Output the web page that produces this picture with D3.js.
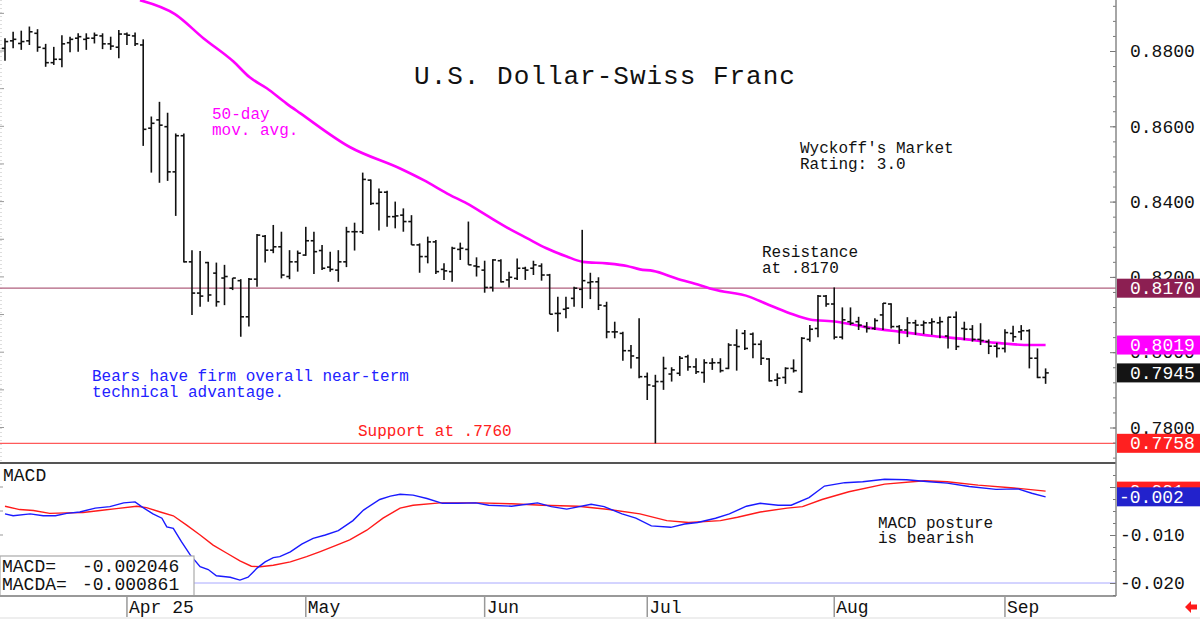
<!DOCTYPE html>
<html>
<head>
<meta charset="utf-8">
<script src="https://cdn.jsdelivr.net/npm/d3@7"></script>
<style>
  body { margin: 0; background: #fff; }
  svg { display: block; }
  text { font-family: "Liberation Mono", "DejaVu Sans Mono", monospace; }
</style>
</head>
<body>
<svg id="chart" width="1200" height="620"></svg>
<script>
// ---- daily bars, Mar 11 .. Sep 8 (bar index 0..128) ----
const open = [
  .8807,.8827,.8820,.8827,.8847,.8807,.8769,.8778,.8822,.8834,
  .8831,.8834,.8840,.8819,.8810,.8845,.8840,.8816,.8595,.8617,
  .8599,.8479,.8575,.8240,.8157,.8238,.8210,.8197,.8170,.8190,
  .8094,.8194,.8308,.8271,.8280,.8201,.8240,.8258,.8296,.8270,
  .8226,.8218,.8240,.8320,.8320,.8457,.8395,.8425,.8360,.8364,
  .8347,.8285,.8254,.8293,.8220,.8214,.8273,.8273,.8229,.8218,
  .8172,.8243,.8192,.8196,.8223,.8223,.8229,.8205,.8103,.8114,
  .8143,.8167,.8185,.8187,.8123,.8054,.8050,.8004,.7985,.7935,
  .7910,.7922,.7942,.7944,.7988,.7961,.7946,.7971,.7972,.7957,
  .8019,.8050,.8048,.8021,.7982,.7926,.7933,.7957,.7895,.8034,
  .8063,.8149,.8128,.8040,.8081,.8081,.8068,.8063,.8099,.8128,
  .8068,.8059,.8078,.8072,.8078,.8078,.8043,.8093,.8063,.8061,
  .8034,.8028,.8016,.8010,.8050,.8054,.8057,.7984,.7933
];
const high = [
  .8834,.8851,.8854,.8865,.8858,.8819,.8811,.8842,.8838,.8847,
  .8847,.8849,.8847,.8838,.8856,.8849,.8849,.8831,.8626,.8665,
  .8636,.8581,.8581,.8271,.8269,.8240,.8238,.8232,.8197,.8194,
  .8197,.8314,.8311,.8338,.8320,.8271,.8270,.8333,.8320,.8285,
  .8267,.8271,.8333,.8344,.8477,.8459,.8435,.8429,.8400,.8382,
  .8364,.8289,.8307,.8298,.8236,.8280,.8291,.8347,.8252,.8243,
  .8247,.8247,.8214,.8249,.8227,.8243,.8236,.8208,.8147,.8147,
  .8174,.8325,.8211,.8199,.8134,.8081,.8054,.8019,.8090,.7946,
  .7940,.7988,.7960,.7990,.7993,.7984,.7981,.7984,.7984,.8024,
  .8061,.8059,.8052,.8032,.7984,.7944,.7960,.7981,.8040,.8072,
  .8152,.8152,.8172,.8119,.8119,.8094,.8080,.8090,.8131,.8130,
  .8072,.8093,.8086,.8084,.8090,.8094,.8094,.8108,.8081,.8072,
  .8077,.8034,.8025,.8061,.8070,.8072,.8061,.8010,.7957
];
const low = [
  .8774,.8807,.8803,.8816,.8798,.8758,.8763,.8757,.8797,.8798,
  .8803,.8820,.8805,.8803,.8781,.8816,.8813,.8548,.8477,.8450,
  .8455,.8362,.8238,.8099,.8121,.8134,.8121,.8125,.8165,.8041,
  .8068,.8174,.8238,.8263,.8196,.8194,.8214,.8256,.8208,.8218,
  .8214,.8187,.8226,.8270,.8314,.8391,.8323,.8333,.8329,.8320,
  .8285,.8211,.8236,.8208,.8192,.8187,.8245,.8232,.8201,.8158,
  .8161,.8185,.8172,.8192,.8192,.8205,.8190,.8101,.8054,.8090,
  .8121,.8117,.8141,.8112,.8037,.8037,.7977,.7957,.7931,.7873,
  .7758,.7900,.7922,.7937,.7951,.7942,.7919,.7953,.7946,.7955,
  .7951,.8006,.7984,.7966,.7922,.7910,.7916,.7946,.7892,.8028,
  .8040,.8121,.8034,.8034,.8072,.8059,.8052,.8059,.8059,.8063,
  .8022,.8040,.8046,.8048,.8046,.8037,.8010,.8006,.8032,.8028,
  .8019,.7995,.7986,.7999,.8028,.8032,.7957,.7931,.7916
];
const close = [
  .8825,.8831,.8825,.8851,.8810,.8769,.8778,.8819,.8831,.8838,
  .8834,.8842,.8819,.8813,.8845,.8842,.8819,.8592,.8608,.8603,
  .8479,.8575,.8240,.8157,.8149,.8152,.8134,.8201,.8197,.8094,
  .8194,.8311,.8271,.8280,.8205,.8240,.8263,.8296,.8267,.8223,
  .8220,.8240,.8320,.8320,.8459,.8395,.8425,.8360,.8362,.8347,
  .8285,.8254,.8293,.8214,.8216,.8276,.8276,.8232,.8227,.8172,
  .8245,.8187,.8199,.8223,.8218,.8232,.8205,.8101,.8103,.8117,
  .8170,.8190,.8187,.8125,.8054,.8054,.8004,.7990,.7935,.7913,
  .7922,.7957,.7953,.7984,.7961,.7948,.7972,.7972,.7951,.8019,
  .8015,.8010,.8021,.7984,.7924,.7931,.7957,.7951,.8037,.8061,
  .8149,.8128,.8040,.8086,.8077,.8072,.8063,.8084,.8130,.8068,
  .8059,.8078,.8072,.8078,.8081,.8081,.8093,.8015,.8061,.8034,
  .8031,.8016,.8010,.8052,.8041,.8057,.7984,.7933,.7945
];

// 50-day moving average at bar positions
const maIdx = [16.6, 20.9, 24.4, 28.1, 30.1, 32.2, 34.6, 36.3, 42.4, 48.6, 51.5, 54.7, 56.8, 59.2, 62.1,
  64.2, 66.6, 69.1, 71.1, 74.0, 76.5, 78.1, 79.7, 82.6, 85.5, 87.1, 91.6, 93.7, 96.6, 99.0, 102.3,
  106.0, 110.1, 114.2, 118.3, 122.4, 126.1, 128];
const maVal = [.8935, .8898, .8834, .8772, .8730, .8701, .8661, .8635, .8545, .8488, .8457, .8418, .8395, .8364, .8327,
  .8303, .8276, .8254, .8240, .8236, .8229, .8220, .8216, .8196, .8178, .8167, .8147, .8128, .8103, .8087, .8081,
  .8066, .8054, .8043, .8034, .8024, .8019, .8019];

// MACD (blue) and MACDA signal (red)
const macdIdx = [0, 1, 3.1, 4.7, 6.2, 7.6, 9.2, 11.1, 12.9, 14.6, 16.0, 16.8, 18.2, 19.3, 19.9, 20.7, 21.7, 22.8,
  24.0, 25.0, 26.0, 27.7, 28.9, 29.9, 31.0, 32.0, 33.0, 33.8, 35.1, 36.5, 37.9, 39.4, 41.0, 42.8, 44.1, 46.1,
  47.4, 48.6, 50.2, 51.9, 53.8, 55.7, 57.9, 59.5, 62.3, 65.5, 67.2, 69.1, 72.1, 73.7, 75.9, 77.6, 79.5, 81.9,
  83.6, 85.2, 87.4, 89.1, 91.2, 92.9, 95.1, 96.7, 98.9, 100.8, 103.3, 105.5, 108.2, 110.9, 113.7, 115.9,
  118.6, 121.9, 124.6, 126.3, 128];
const macdVal = [-.0056, -.0060, -.0056, -.0060, -.0060, -.0055, -.0052, -.0044, -.0041, -.0033, -.0031, -.0041,
  -.0056, -.0065, -.0083, -.0086, -.0114, -.0142, -.0166, -.0172, -.0185, -.0188, -.0194, -.0188, -.0169,
  -.0156, -.0147, -.0145, -.0135, -.0119, -.0107, -.0100, -.0091, -.0070, -.0048, -.0026, -.0019, -.0015,
  -.0017, -.0024, -.0034, -.0034, -.0033, -.0038, -.0040, -.0033, -.0041, -.0046, -.0036, -.0041, -.0056,
  -.0065, -.0081, -.0084, -.0077, -.0074, -.0065, -.0056, -.0040, -.0034, -.0038, -.0038, -.0022, .0002,
  .0009, .0011, .0016, .0015, .0011, .0008, .0001, -.0005, -.0004, -.0013, -.00205];
const sigIdx = [0, 1.8, 3.5, 5.5, 7.6, 9.6, 11.7, 13.7, 16.2, 17.4, 19.1, 20.7, 22.3, 24.0, 25.6, 27.3, 28.9,
  30.3, 31.4, 33.0, 35.1, 37.1, 38.7, 40.8, 42.4, 44.5, 46.5, 48.6, 50.2, 53.5, 58.4, 62.3, 66.1, 70.5, 74.3,
  78.1, 81.4, 84.1, 88.0, 90.1, 92.9, 96.2, 98.1, 100.5, 103.8, 108.2, 113.1, 115.9, 119.7, 124.1, 128];
const sigVal = [-.0040, -.0047, -.0049, -.0055, -.0054, -.0053, -.0049, -.0045, -.0040, -.0043, -.0052, -.0060,
  -.0079, -.0100, -.0121, -.0138, -.0154, -.0165, -.0166, -.0163, -.0156, -.0145, -.0135, -.0121, -.0110,
  -.0090, -.0065, -.0044, -.0038, -.0033, -.0033, -.0035, -.0038, -.0040, -.0047, -.0056, -.0070, -.0074,
  -.0070, -.0063, -.0052, -.0044, -.0041, -.0026, -.0010, .0006, .0013, .0011, .0004, -.0002, -.00086];

// axis labels
const monthLabels = ["Apr 25", "May", "Jun", "Jul", "Aug", "Sep"];
const monthIdx = [15, 37, 59, 79, 102, 123];
const priceTicks = [0.78, 0.80, 0.82, 0.84, 0.86, 0.88];
const macdTicks = [0, -0.01, -0.02];

// levels and value flags on the right axis
const resistance = 0.8170, support = 0.7758;
const priceFlags = [
  { v: 0.8170, label: "0.8170", color: "#8c1f52" },
  { v: 0.8019, label: "0.8019", color: "#ff00ff" },
  { v: 0.7945, label: "0.7945", color: "#141414" },
  { v: 0.7758, label: "0.7758", color: "#ff2020" }
];
const macdFlags = [
  { v: -0.000861, label: "-0.001", color: "#ff2020" },
  { v: -0.002046, label: "-0.002", color: "#2222cc" }
];

const svg = d3.select("#chart");
const axisX = 1116, mainBottom = 463, macdBottom = 596;

const x = d3.scaleLinear().domain([0, 128]).range([5, 1045.6]);
const y = d3.scaleLinear().domain([0.78, 0.88]).range([427.5, 51]);
const ym = d3.scaleLinear().domain([-0.02, 0]).range([583, 487]);

const defs = svg.append("defs");
defs.append("clipPath").attr("id", "clipMain")
  .append("rect").attr("x", 0).attr("y", 0).attr("width", axisX).attr("height", mainBottom);
defs.append("clipPath").attr("id", "clipMacd")
  .append("rect").attr("x", 0).attr("y", mainBottom).attr("width", axisX).attr("height", macdBottom - mainBottom);

// left edge ticks
const leftTicks = svg.append("g").attr("stroke", "#999").attr("stroke-width", 1);
leftTicks.selectAll("line.lm")
  .data(d3.range(0.78, 0.895, 0.01))
  .join("line")
  .attr("x1", 0).attr("x2", 4)
  .attr("y1", (d) => y(d)).attr("y2", (d) => y(d));
leftTicks.append("line")
  .attr("x1", 1).attr("x2", 1).attr("y1", 0).attr("y2", mainBottom)
  .attr("stroke", "#bbb").attr("stroke-dasharray", "1,3");
leftTicks.selectAll("line.lmacd")
  .data([0, -0.005, -0.01])
  .join("line")
  .attr("class", "lmacd")
  .attr("x1", 0).attr("x2", 3)
  .attr("y1", (d) => ym(d)).attr("y2", (d) => ym(d));

// resistance / support lines
svg.append("line")
  .attr("x1", 0).attr("x2", axisX)
  .attr("y1", y(resistance)).attr("y2", y(resistance))
  .attr("stroke", "#b0607e").attr("stroke-width", 1.2);
svg.append("line")
  .attr("x1", 0).attr("x2", axisX)
  .attr("y1", y(support)).attr("y2", y(support))
  .attr("stroke", "#ff5a5a").attr("stroke-width", 1.2);

// moving average
const main = svg.append("g").attr("clip-path", "url(#clipMain)");
main.append("path")
  .datum(maIdx.map((d, i) => [d, maVal[i]]))
  .attr("fill", "none")
  .attr("stroke", "#ff00ff")
  .attr("stroke-width", 2.6)
  .attr("d", d3.line().x((d) => x(d[0])).y((d) => y(d[1])).curve(d3.curveMonotoneX));

// OHLC bars
const bars = main.append("g").attr("stroke", "#111").attr("stroke-width", 1.6);
const idx = d3.range(open.length);
bars.selectAll("line.hl").data(idx).join("line").attr("class", "hl")
  .attr("x1", (i) => x(i)).attr("x2", (i) => x(i))
  .attr("y1", (i) => y(high[i])).attr("y2", (i) => y(low[i]));
bars.selectAll("line.op").data(idx).join("line").attr("class", "op")
  .attr("x1", (i) => x(i) - 3.2).attr("x2", (i) => x(i))
  .attr("y1", (i) => y(open[i])).attr("y2", (i) => y(open[i]));
bars.selectAll("line.cl").data(idx).join("line").attr("class", "cl")
  .attr("x1", (i) => x(i)).attr("x2", (i) => x(i) + 3.2)
  .attr("y1", (i) => y(close[i])).attr("y2", (i) => y(close[i]));

// annotations
const note = (txt, tx, ty, color, size) =>
  svg.append("text").attr("x", tx).attr("y", ty)
    .attr("fill", color).attr("font-size", size || 16).text(txt);

svg.append("text")
  .attr("x", 605).attr("y", 84)
  .attr("text-anchor", "middle")
  .attr("font-size", 26)
  .attr("letter-spacing", 1)
  .attr("fill", "#111")
  .text("U.S. Dollar-Swiss Franc");
note("50-day", 212, 119, "#ff00ff");
note("mov. avg.", 212, 135, "#ff00ff");
note("Wyckoff's Market", 800, 153, "#111");
note("Rating: 3.0", 800, 169, "#111");
note("Resistance", 762, 257, "#111");
note("at .8170", 762, 273, "#111");
note("Bears have firm overall near-term", 92, 381, "#2222ff");
note("technical advantage.", 92, 397, "#2222ff");
note("Support at .7760", 358, 436, "#ff2020");

// panel separators
svg.append("line")
  .attr("x1", 0).attr("x2", axisX).attr("y1", mainBottom).attr("y2", mainBottom)
  .attr("stroke", "#555").attr("stroke-width", 2.2);

// MACD panel
const macdG = svg.append("g").attr("clip-path", "url(#clipMacd)");
macdG.append("line")
  .attr("x1", 0).attr("x2", axisX).attr("y1", ym(-0.02)).attr("y2", ym(-0.02))
  .attr("stroke", "#a8a8ff").attr("stroke-width", 1);
macdG.append("path")
  .datum(sigIdx.map((d, i) => [d, sigVal[i]]))
  .attr("fill", "none").attr("stroke", "#ff1a1a").attr("stroke-width", 1.4)
  .attr("d", d3.line().x((d) => x(d[0])).y((d) => ym(d[1])));
macdG.append("path")
  .datum(macdIdx.map((d, i) => [d, macdVal[i]]))
  .attr("fill", "none").attr("stroke", "#1a1aff").attr("stroke-width", 1.4)
  .attr("d", d3.line().x((d) => x(d[0])).y((d) => ym(d[1])));

note("MACD", 3, 481, "#111", 18);
note("MACD posture", 878, 528, "#111");
note("is bearish", 878, 543, "#111");

// MACD readout box
svg.append("rect")
  .attr("x", 0).attr("y", 556).attr("width", 194).attr("height", 40)
  .attr("fill", "#fff").attr("stroke", "#aaa").attr("stroke-width", 1.2);
note("MACD=", 2, 572, "#111", 18);
note("-0.002046", 82, 572, "#111", 18);
note("MACDA=", 2, 590, "#111", 18);
note("-0.000861", 82, 590, "#111", 18);

// bottom time axis
svg.append("line")
  .attr("x1", 0).attr("x2", axisX).attr("y1", macdBottom).attr("y2", macdBottom)
  .attr("stroke", "#999").attr("stroke-width", 2);
svg.append("line")
  .attr("x1", 0).attr("x2", 1200).attr("y1", 618).attr("y2", 618)
  .attr("stroke", "#ddd").attr("stroke-width", 1);
const months = svg.append("g");
months.selectAll("line").data(monthIdx).join("line")
  .attr("x1", (d) => x(d)).attr("x2", (d) => x(d))
  .attr("y1", macdBottom).attr("y2", 617)
  .attr("stroke", "#999").attr("stroke-width", 1.5);
months.selectAll("text").data(monthIdx).join("text")
  .attr("x", (d) => x(d) + 2).attr("y", 613)
  .attr("font-size", 18).attr("fill", "#111")
  .text((d, i) => monthLabels[i]);

// right price axis
const minorPrice = d3.range(0.772, 0.8935, 0.004);
svg.append("g")
  .attr("transform", `translate(${axisX},0)`)
  .call(d3.axisRight(y).tickValues(minorPrice).tickSizeInner(-3).tickSizeOuter(0).tickFormat(""))
  .call((g) => g.select(".domain").remove())
  .call((g) => g.selectAll(".tick line").attr("stroke", "#777"));
svg.append("g")
  .attr("transform", `translate(${axisX},0)`)
  .call(d3.axisRight(y).tickValues(priceTicks).tickSizeInner(-6).tickSizeOuter(0)
    .tickPadding(14).tickFormat(d3.format(".4f")))
  .call((g) => g.select(".domain").remove())
  .call((g) => g.selectAll(".tick line").attr("stroke", "#777"))
  .call((g) => g.selectAll(".tick text")
    .attr("font-size", 18).attr("fill", "#111")
    .style("font-family", "'Liberation Mono', monospace"));

// right MACD axis (the 0.000 label sits fully under the value flags, so only its tick is drawn)
const minorMacd = d3.range(0.005, -0.0226, -0.0025);
svg.append("g")
  .attr("transform", `translate(${axisX},0)`)
  .call(d3.axisRight(ym).tickValues(minorMacd).tickSizeInner(-3).tickSizeOuter(0).tickFormat(""))
  .call((g) => g.select(".domain").remove())
  .call((g) => g.selectAll(".tick")
    .attr("display", (d) => (ym(d) > mainBottom && ym(d) < macdBottom ? null : "none")))
  .call((g) => g.selectAll(".tick line").attr("stroke", "#777"));
svg.append("g")
  .attr("transform", `translate(${axisX},0)`)
  .call(d3.axisRight(ym).tickValues(macdTicks).tickSizeInner(-6).tickSizeOuter(0)
    .tickPadding(4).tickFormat((d) => (d < 0 ? "-" + d3.format(".3f")(-d) : "")))
  .call((g) => g.select(".domain").remove())
  .call((g) => g.selectAll(".tick line").attr("stroke", "#777"))
  .call((g) => g.selectAll(".tick text")
    .attr("font-size", 18).attr("fill", "#111")
    .style("font-family", "'Liberation Mono', monospace"));

svg.append("line")
  .attr("x1", axisX).attr("x2", axisX).attr("y1", 0).attr("y2", macdBottom)
  .attr("stroke", "#888").attr("stroke-width", 1.5);

// value flags
const flag = (list, scale) => {
  const g = svg.append("g");
  list.forEach((f) => {
    const cy = scale(f.v);
    g.append("rect")
      .attr("x", axisX + 1).attr("y", cy - 9.5)
      .attr("width", 83).attr("height", 19)
      .attr("fill", f.color);
    g.append("text")
      .attr("x", f.label.startsWith("-") ? axisX + 3 : axisX + 14)
      .attr("y", cy + 6)
      .attr("font-size", 18).attr("fill", "#fff")
      .text(f.label);
  });
};
flag(priceFlags, y);
flag(macdFlags, ym);

// little red arrow, bottom right
svg.append("path")
  .attr("d", "M1185,607 L1191,601 L1191,604.5 L1197,604.5 L1197,609.5 L1191,609.5 L1191,613 Z")
  .attr("fill", "#ff1a1a");
</script>
</body>
</html>
